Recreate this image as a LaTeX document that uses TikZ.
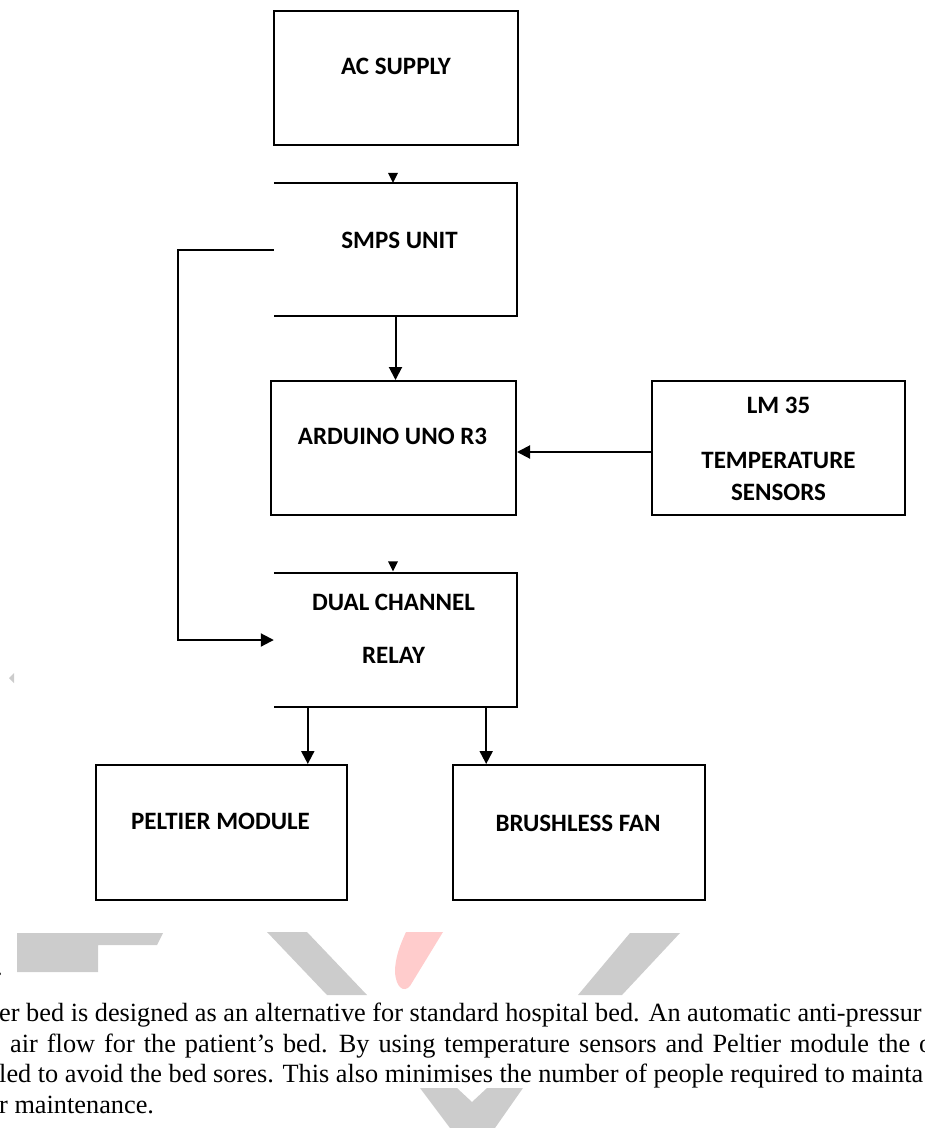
\documentclass[tikz,border=0pt]{standalone}
\usepackage{fontspec}
\setmainfont{Liberation Serif}
\newfontfamily\boxfont{Carlito}
\usetikzlibrary{positioning,arrows.meta,calc}
\definecolor{wmgrey}{RGB}{204,204,204}
\definecolor{wmpink}{RGB}{255,204,204}

\begin{document}
\begin{tikzpicture}[x=1pt,y=-1pt,
  box/.style={draw,line width=2pt,minimum width=#1,minimum height=134pt,inner sep=0pt},
  box/.default=245pt,
  openbox/.style={minimum width=243pt,minimum height=133pt,inner sep=0pt},
  edge3/.style={line width=2pt},
  lbl/.style={font=\boxfont\bfseries\fontsize{25}{25}\selectfont,inner sep=0pt},
  arr/.style={line width=2pt,-{Triangle[length=13pt,width=13pt]}},
  para/.style={font=\fontsize{26.3}{31}\selectfont,anchor=base west,inner sep=0pt}]
  \useasboundingbox (0,0) rectangle (925,1128);
  \clip (0,0) rectangle (925,1128);

  % watermark
  \fill[wmgrey] (17,933) -- (163,933) -- (157,945) -- (98,945) -- (98,972) -- (17,972) -- cycle;
  \fill[wmgrey] (267,932) -- (307,932) -- (367,995) -- (327,995) -- cycle;
  \fill[wmpink] (406,932) -- (443,932) -- (410,986) .. controls (404,993) and (396,988) .. (395,972)
    .. controls (395,958) and (400,945) .. (406,932) -- cycle;
  \fill[wmgrey] (630,933) -- (680,933) -- (622,995) -- (578,995) -- cycle;
  \fill[wmgrey] (420,1088) -- (457,1088) -- (472,1102) -- (487,1088) -- (523,1088) -- (495,1128) -- (450,1128) -- cycle;
  \fill[wmgrey] (9,678) -- (14,673) -- (14,683) -- cycle;

  % blocks
  \node[box=244pt] (ac) at (396,78) {};
  \node[openbox] (smps) at (395.5,249.5) {};
  \node[box] (ard) at (393.5,448) {};
  \node[box=253pt] (lm) at (778.5,448) {};
  \node[openbox] (rel) at (395.5,640) {};
  \node[box=251pt,minimum height=135pt] (pel) at (221.5,832.5) {};
  \node[box=252pt,minimum height=135pt] (fan) at (579,832.5) {};
  \draw[edge3] (smps.north west) -- (smps.north east) -- (smps.south east) -- (smps.south west);
  \draw[edge3] (rel.north west) -- (rel.north east) -- (rel.south east) -- (rel.south west);

  \node[lbl] (actxt) at ($(ac.north)+(0,56)$) {AC SUPPLY};
  \node[lbl] (smpstxt) at ($(smps.north)+(4,58)$) {SMPS UNIT};
  \node[lbl] (ardtxt) at ($(ard.north)+(-1,56)$) {ARDUINO UNO R3};
  \node[lbl] (lmtxt) at ($(lm.north)+(0,25)$) {LM 35};
  \node[lbl] (temptxt) at ($(lm.north)+(0,80)$) {TEMPERATURE};
  \node[lbl] (senstxt) at ($(lm.north)+(0,112)$) {SENSORS};
  \node[lbl] (dualtxt) at ($(rel.north)+(-2,29)$) {DUAL CHANNEL};
  \node[lbl] (reltxt) at ($(rel.north)+(-2,82)$) {RELAY};
  \node[lbl] (peltxt) at ($(pel.north)+(-1,57)$) {PELTIER MODULE};
  \node[lbl] (fantxt) at ($(fan.north)+(-1,59)$) {BRUSHLESS FAN};

  % connectors
  \fill ($(smps.north)+(-2.5,0)$) -- ++(-5,-10) -- ++(10,0) -- cycle;
  \fill ($(rel.north)+(-2.5,-2)$) -- ++(-5,-10) -- ++(10,0) -- cycle;
  \draw[arr] (smps.south) -- (smps.south |- ard.north);
  \coordinate (lmout) at ($(lm.west)+(0,4)$);
  \draw[arr] (lmout) -- (lmout -| ard.east);
  \draw[arr] (smps.west) -- ++(-96,0) |- (rel.west);
  \coordinate (relpel) at ($(rel.south west)+(34,0)$);
  \coordinate (relfan) at ($(rel.south east)+(-31,0)$);
  \draw[arr] (relpel) -- (relpel |- pel.north);
  \draw[arr] (relfan) -- (relfan |- fan.north);

  % text below
  \node[para] (dot) at (-4,975) {.};
  \node[para] (line1) at (-1,1021) {er bed is designed as an alternative for standard hospital bed. An automatic anti-pressur};
  \node[para] (line2) at (10,1052) {\spaceskip=9pt\relax air flow for the patient’s bed. By using temperature sensors and Peltier module the o};
  \node[para] (line3) at (-1,1082) {led to avoid the bed sores. This also minimises the number of people required to mainta};
  \node[para] (line4) at (-1,1113) {r maintenance.};
\end{tikzpicture}
\end{document}
